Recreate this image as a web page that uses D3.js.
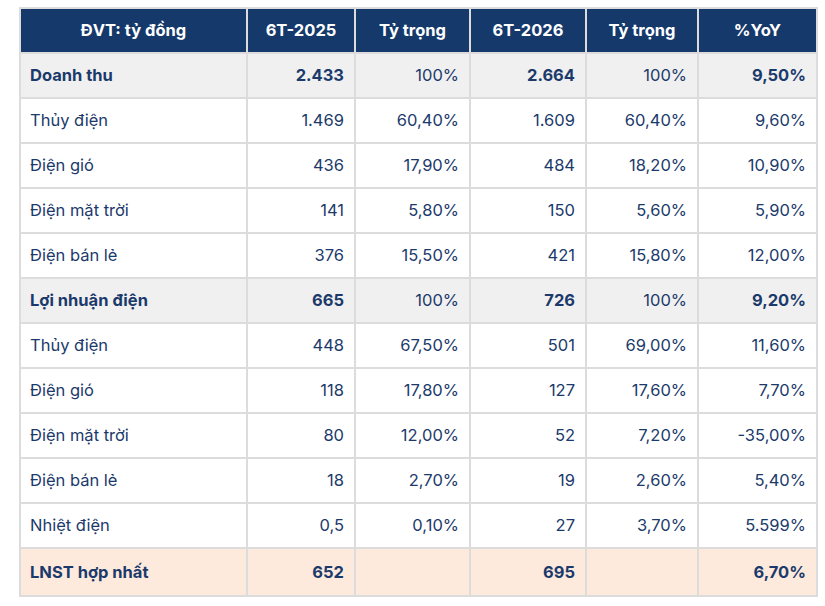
<!DOCTYPE html>
<html>
<head>
<meta charset="utf-8">
<script src="https://cdn.jsdelivr.net/npm/d3@7"></script>
<style>
  body { margin: 0; background: #fff; }
  text { font-family: Inter, "Noto Sans", sans-serif; }
</style>
</head>
<body>
<div id="chart"></div>
<script>
// table content
const headers = ['ĐVT: tỷ đồng', '6T-2025', 'Tỷ trọng', '6T-2026', 'Tỷ trọng', '%YoY'];
const rowLabels = ['Doanh thu', 'Thủy điện', 'Điện gió', 'Điện mặt trời', 'Điện bán lẻ',
    'Lợi nhuận điện', 'Thủy điện', 'Điện gió', 'Điện mặt trời', 'Điện bán lẻ', 'Nhiệt điện', 'LNST hợp nhất'];
const val2025 = ['2.433', '1.469', '436', '141', '376', '665', '448', '118', '80', '18', '0,5', '652'];
const share2025 = ['100%', '60,40%', '17,90%', '5,80%', '15,50%', '100%', '67,50%', '17,80%', '12,00%', '2,70%', '0,10%', ''];
const val2026 = ['2.664', '1.609', '484', '150', '421', '726', '501', '127', '52', '19', '27', '695'];
const share2026 = ['100%', '60,40%', '18,20%', '5,60%', '15,80%', '100%', '69,00%', '17,60%', '7,20%', '2,60%', '3,70%', ''];
const yoy = ['9,50%', '9,60%', '10,90%', '5,90%', '12,00%', '9,20%', '11,60%', '7,70%', '-35,00%', '5,40%', '5.599%', '6,70%'];
const rowKind = ['total', 'item', 'item', 'item', 'item', 'total', 'item', 'item', 'item', 'item', 'item', 'net'];

generate();

function generate() {
    const W = 825, H = 606;
    const colW = [227, 108, 115, 116, 112, 119];
    const left = 20, top = 8, headH = 45, rowH = 45;

    const colX = [left];
    colW.forEach(w => colX.push(colX[colX.length - 1] + w));

    const svg = d3.select('div#chart')
        .append('svg')
        .attr('width', W)
        .attr('height', H);

    const y = d3.scaleBand()
        .domain(d3.range(rowLabels.length))
        .range([top + headH, top + headH + rowH * rowLabels.length])
        .padding(0);

    // last row is a bit taller in the source
    const rowHeight = kind => kind === 'net' ? y.bandwidth() + 3 : y.bandwidth();

    const fills = { total: '#f0f0f0', item: '#ffffff', net: '#fdeadd' };
    const ink = '#1b3a6b';
    const line = '#dcdcdc';

    // header
    const head = svg.append('g');
    head.selectAll('rect')
        .data(headers)
        .enter()
        .append('rect')
        .attr('x', (d, i) => colX[i])
        .attr('y', top)
        .attr('width', (d, i) => colW[i])
        .attr('height', headH)
        .style('fill', '#15396b')
        .style('stroke', line)
        .style('stroke-width', 2);
    head.selectAll('text')
        .data(headers)
        .enter()
        .append('text')
        .text(d => d)
        .attr('x', (d, i) => colX[i] + colW[i] / 2)
        .attr('y', top + headH / 2)
        .attr('dy', '0.36em')
        .attr('text-anchor', 'middle')
        .style('font-size', '16.5px')
        .style('font-weight', 'bold')
        .style('fill', '#fff');

    // body rows
    const rows = rowLabels.map((lab, i) => ({
        i, kind: rowKind[i],
        cells: [lab, val2025[i], share2025[i], val2026[i], share2026[i], yoy[i]]
    }));

    const g = svg.selectAll('g.row')
        .data(rows)
        .enter()
        .append('g')
        .classed('row', true)
        .attr('transform', d => `translate(0,${y(d.i)})`);

    g.selectAll('rect')
        .data(d => d.cells.map((c, j) => ({ c, j, kind: d.kind })))
        .enter()
        .append('rect')
        .attr('x', d => colX[d.j])
        .attr('y', 0)
        .attr('width', d => colW[d.j])
        .attr('height', d => rowHeight(d.kind))
        .style('fill', d => fills[d.kind])
        .style('stroke', line)
        .style('stroke-width', 2);

    g.selectAll('text')
        .data(d => d.cells.map((c, j) => ({ c, j, kind: d.kind })))
        .enter()
        .append('text')
        .text(d => d.c)
        .attr('x', d => d.j === 0 ? colX[0] + 10 : colX[d.j + 1] - 11)
        .attr('y', d => rowHeight(d.kind) / 2)
        .attr('dy', '0.36em')
        .attr('text-anchor', d => d.j === 0 ? 'start' : 'end')
        .style('font-size', '16.5px')
        .style('font-weight', d => (d.kind !== 'item' && (d.j === 0 || d.j === 1 || d.j === 3 || d.j === 5)) ? 'bold' : 'normal')
        .style('fill', ink);
}
</script>
</body>
</html>
